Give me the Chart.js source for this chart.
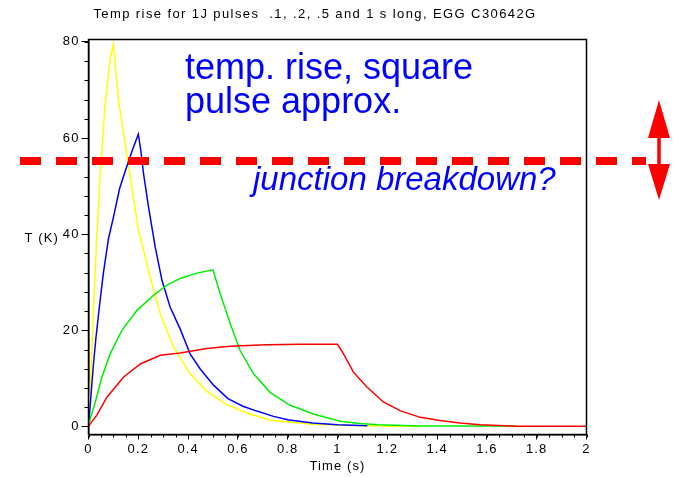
<!DOCTYPE html>
<html>
<head>
<meta charset="utf-8">
<script src="https://cdn.jsdelivr.net/npm/chart.js@4/dist/chart.umd.min.js"></script>
<style>
  html, body { margin: 0; padding: 0; background: #fff; }
</style>
</head>
<body>
<canvas id="c" width="674" height="477"></canvas>
<script>
// ── DATA ──────────────────────────────────────────────────────────────────────
// 0.1 s pulse
const yellowT = [0, 0.01, 0.02, 0.032, 0.046, 0.066, 0.087, 0.1, 0.12, 0.157, 0.2, 0.248, 0.288, 0.341, 0.408, 0.475, 0.55, 0.635, 0.73, 0.9, 1.1, 1.33];
const yellowK = [0, 11, 24, 38, 52, 66.5, 76.5, 79.5, 68, 55.5, 41, 31, 23.5, 16.6, 11, 7.3, 4.7, 2.8, 1.3, 0.45, 0.15, 0];
// 0.2 s pulse
const blueT = [0, 0.01, 0.02, 0.03, 0.045, 0.06, 0.08, 0.1, 0.125, 0.15, 0.175, 0.2, 0.21, 0.221, 0.241, 0.268, 0.295, 0.328, 0.368, 0.408, 0.448, 0.502, 0.56, 0.62, 0.676, 0.743, 0.8, 0.9, 1.0, 1.12];
const blueK = [0, 6.5, 13, 18.5, 25.5, 32, 39, 43.5, 49.5, 53.5, 57.3, 60.8, 57.5, 52.6, 45.7, 37.3, 30.4, 24.8, 20.3, 15.1, 12, 8.6, 5.8, 4.2, 3.2, 2.1, 1.4, 0.7, 0.35, 0.15];
// 0.5 s pulse
const greenT = [0, 0.01, 0.027, 0.054, 0.087, 0.134, 0.194, 0.261, 0.315, 0.368, 0.435, 0.5, 0.529, 0.569, 0.609, 0.662, 0.729, 0.81, 0.903, 1.01, 1.09, 1.16, 1.33, 1.72];
const greenK = [0, 2.2, 5, 10.3, 15.1, 20, 24.1, 27.3, 29.4, 30.8, 31.9, 32.6, 27.6, 21.4, 15.8, 11, 7.1, 4.4, 2.6, 1.1, 0.6, 0.35, 0.1, 0.1];
// 1 s pulse
const redT = [0, 0.015, 0.033, 0.074, 0.141, 0.208, 0.288, 0.368, 0.475, 0.569, 0.716, 0.85, 1.0, 1.024, 1.064, 1.118, 1.184, 1.251, 1.332, 1.412, 1.492, 1.572, 1.72, 2.0];
const redK = [0, 1.1, 2.3, 6.1, 10.3, 13, 14.8, 15.3, 16.2, 16.7, 17.0, 17.1, 17.1, 15.1, 11.3, 8.2, 5.1, 3.3, 1.9, 1.25, 0.7, 0.35, 0.05, 0.05];

const xTicks = [0, 0.2, 0.4, 0.6, 0.8, 1, 1.2, 1.4, 1.6, 1.8, 2];
const xTickLabels = ['0', '0.2', '0.4', '0.6', '0.8', '1', '1.2', '1.4', '1.6', '1.8', '2'];
const yTicks = [0, 20, 40, 60, 80];
const yTickLabels = ['0', '20', '40', '60', '80'];
const xMinorStep = 0.05;
const yMinorStep = 4;
const breakdownK = 55.2;

const FONT = '"Liberation Sans", Arial, Helvetica, sans-serif';

function pts(ts, ks) {
  return ts.map((t, i) => ({ x: t, y: ks[i] }));
}

// ── PLUGINS ───────────────────────────────────────────────────────────────────
// wide spacing for the small axis text
const spacing = {
  id: 'spacing',
  beforeDraw(chart) { chart.ctx.letterSpacing = '1.1px'; }
};

// minor ticks, box frame, title and axis caption
const frame = {
  id: 'frame',
  afterDraw(chart) {
    const { ctx, chartArea: a, scales: { x, y } } = chart;
    ctx.save();
    ctx.strokeStyle = '#000';
    ctx.lineWidth = 1;
    ctx.beginPath();
    for (let i = 0; i * xMinorStep <= 2 + 1e-9; i++) {
      const px = Math.round(x.getPixelForValue(i * xMinorStep)) + 0.5;
      ctx.moveTo(px, a.bottom);
      ctx.lineTo(px, a.bottom + 3);
    }
    for (let i = 0; i * yMinorStep <= 80; i++) {
      const py = Math.round(y.getPixelForValue(i * yMinorStep)) + 0.5;
      ctx.moveTo(a.left - 4, py);
      ctx.lineTo(a.left, py);
    }
    ctx.stroke();

    ctx.lineWidth = 1.5;
    ctx.strokeRect(a.left, a.top, a.right - a.left, a.bottom - a.top);

    ctx.fillStyle = '#000';
    ctx.font = '13px ' + FONT;
    ctx.letterSpacing = '1.4px';
    ctx.textAlign = 'center';
    ctx.textBaseline = 'alphabetic';
    ctx.fillText('Temp rise for 1J pulses  .1, .2, .5 and 1 s long, EGG C30642G', 315, 18);

    ctx.letterSpacing = '1.1px';
    ctx.textAlign = 'right';
    ctx.textBaseline = 'middle';
    ctx.fillText('T (K)', 59, 238);
    ctx.restore();
  }
};

// breakdown marker and notes drawn over the curves
const notes = {
  id: 'notes',
  afterDraw(chart) {
    const { ctx, scales: { y } } = chart;
    const yb = y.getPixelForValue(breakdownK);
    ctx.save();
    ctx.letterSpacing = '0px';

    ctx.strokeStyle = '#ff0000';
    ctx.lineWidth = 8;
    ctx.setLineDash([21, 15]);
    ctx.beginPath();
    ctx.moveTo(20, yb);
    ctx.lineTo(646, yb);
    ctx.stroke();
    ctx.setLineDash([]);

    // double arrow
    const ax = 659;
    ctx.fillStyle = '#ff0000';
    ctx.fillRect(ax - 1.75, 136, 3.5, 30);
    ctx.beginPath();
    ctx.moveTo(ax, 100);
    ctx.lineTo(ax + 11, 138);
    ctx.lineTo(ax - 11, 138);
    ctx.closePath();
    ctx.moveTo(ax, 200);
    ctx.lineTo(ax + 11, 164);
    ctx.lineTo(ax - 11, 164);
    ctx.closePath();
    ctx.fill();

    ctx.fillStyle = '#0000ff';
    ctx.textAlign = 'left';
    ctx.textBaseline = 'alphabetic';
    ctx.font = '36px ' + FONT;
    ctx.fillText('temp. rise, square', 185, 79);
    ctx.fillText('pulse approx.', 185, 113);
    ctx.font = 'italic 33px ' + FONT;
    ctx.fillText('junction breakdown?', 253, 190);
    ctx.restore();
  }
};

// ── CHART ─────────────────────────────────────────────────────────────────────
Chart.defaults.font.family = FONT;
Chart.defaults.font.size = 13;
Chart.defaults.color = '#000';

new Chart(document.getElementById('c'), {
  type: 'line',
  data: {
    datasets: [
      { data: pts(redT, redK), borderColor: '#ff0000' },
      { data: pts(greenT, greenK), borderColor: '#00ee00' },
      { data: pts(blueT, blueK), borderColor: '#0000ff' },
      { data: pts(yellowT, yellowK), borderColor: '#ffff00' }
    ]
  },
  options: {
    responsive: false,
    animation: false,
    events: [],
    layout: { padding: { left: 0, top: 39.5, right: 87.5, bottom: 0 } },
    elements: {
      point: { radius: 0 },
      line: { borderWidth: 1.5, tension: 0, fill: false }
    },
    plugins: { legend: { display: false }, tooltip: { enabled: false } },
    scales: {
      x: {
        type: 'linear',
        min: 0,
        max: 2,
        afterFit: s => { s.height = 42.5; },
        afterBuildTicks: s => { s.ticks = xTicks.map(v => ({ value: v })); },
        ticks: {
          padding: 2,
          maxRotation: 0,
          autoSkip: false,
          callback: (v, i) => xTickLabels[i]
        },
        grid: { drawOnChartArea: false, tickLength: 5, color: '#000' },
        border: { color: '#000', width: 1.5 },
        title: { display: true, text: 'Time (s)', padding: { top: 0, bottom: 3 } }
      },
      y: {
        min: -1.67,
        max: 80.5,
        afterFit: s => { s.width = 88.5; },
        afterBuildTicks: s => { s.ticks = yTicks.map(v => ({ value: v })); },
        ticks: {
          padding: 2,
          autoSkip: false,
          callback: (v, i) => yTickLabels[i]
        },
        grid: { drawOnChartArea: false, tickLength: 7, color: '#000' },
        border: { color: '#000', width: 1.5 }
      }
    }
  },
  plugins: [spacing, frame, notes]
});
</script>
</body>
</html>
